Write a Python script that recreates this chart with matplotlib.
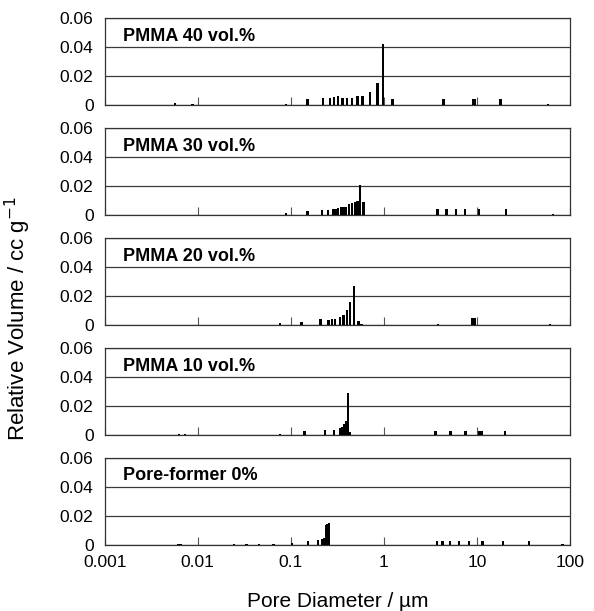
import matplotlib
matplotlib.use("Agg")
from matplotlib import pyplot as plt
from matplotlib.ticker import NullLocator

plt.rcParams["font.family"] = ["Liberation Sans", "DejaVu Sans"]

# pore diameter (um) and relative volume (cc/g)
d40 = [0.0057, 0.0088, 0.0527, 0.089, 0.151, 0.223, 0.265, 0.290, 0.323, 0.360, 0.400, 0.453,
       0.522, 0.591, 0.713, 0.855, 0.98, 1.24, 4.35, 9.1, 9.6, 17.9, 58]
v40 = [0.0016, 0.0010, 0.0006, 0.0012, 0.0047, 0.0052, 0.0052, 0.0059, 0.0066, 0.0054, 0.0054, 0.0054,
       0.0066, 0.0066, 0.0094, 0.0153, 0.042, 0.0047, 0.0047, 0.0047, 0.0047, 0.0047, 0.0010]

d30 = [0.0273, 0.0310, 0.0349, 0.0395, 0.0506, 0.089, 0.151, 0.216, 0.250, 0.283, 0.303, 0.323,
       0.345, 0.369, 0.394, 0.420, 0.457, 0.489, 0.522, 0.557, 0.605, 3.78, 4.71, 5.94, 7.42, 10.6,
       20.5, 65.9]
v30 = [0.0005, 0.0003, 0.0003, 0.0003, 0.0006, 0.0014, 0.0030, 0.0035, 0.0035, 0.0042, 0.0044, 0.0053,
       0.0058, 0.0058, 0.0058, 0.0077, 0.0088, 0.0093, 0.0100, 0.0205, 0.0093, 0.0044, 0.0044, 0.0044,
       0.0044, 0.0044, 0.0044, 0.0008]

d20 = [0.0090, 0.0105, 0.0122, 0.0142, 0.0165, 0.0192, 0.0224, 0.0260, 0.0295, 0.033, 0.038, 0.047,
       0.053, 0.076, 0.1305, 0.209, 0.255, 0.277, 0.300, 0.337, 0.369, 0.404, 0.431, 0.476, 0.535,
       0.575, 3.84, 9.0, 9.5, 60.7]
v20 = [0.0004, 0.0004, 0.0004, 0.0004, 0.0004, 0.0004, 0.0004, 0.0004, 0.0004, 0.0004, 0.0004, 0.0004,
       0.0004, 0.0016, 0.0023, 0.0047, 0.0035, 0.0042, 0.0047, 0.0056, 0.0074, 0.0105, 0.0163, 0.0270,
       0.0028, 0.0008, 0.0012, 0.0048, 0.0048, 0.0008]

d10 = [0.0036, 0.0041, 0.0046, 0.0063, 0.0073, 0.0105, 0.0125, 0.015, 0.018, 0.021, 0.025, 0.027,
       0.031, 0.035, 0.041, 0.050, 0.077, 0.140, 0.232, 0.293, 0.337, 0.357, 0.376, 0.395, 0.410,
       0.428, 3.59, 5.2, 7.55, 10.6, 11.2, 20.1, 67]
v10 = [0.0005, 0.0005, 0.0005, 0.0012, 0.0010, 0.0003, 0.0003, 0.0003, 0.0003, 0.0003, 0.0003, 0.0005,
       0.0005, 0.0005, 0.0005, 0.0005, 0.0007, 0.0030, 0.0035, 0.0035, 0.0052, 0.0057, 0.0076, 0.0095,
       0.0287, 0.0020, 0.0029, 0.0029, 0.0029, 0.0029, 0.0029, 0.0029, 0.0005]

d0 = [0.0040, 0.0045, 0.0050, 0.0055, 0.0062, 0.0066, 0.0072, 0.0080, 0.0088, 0.011, 0.0125, 0.014,
      0.016, 0.018, 0.020, 0.0245, 0.0335, 0.0454, 0.0649, 0.103, 0.154, 0.197, 0.220, 0.229, 0.238,
      0.247, 0.256, 3.74, 4.28, 5.12, 6.45, 8.19, 11.5, 19.1, 36.4, 83]
v0 = [0.0003, 0.0003, 0.0003, 0.0003, 0.0010, 0.0010, 0.0005, 0.0005, 0.0005, 0.0003, 0.0003, 0.0003,
      0.0003, 0.0003, 0.0003, 0.0012, 0.0008, 0.0008, 0.0008, 0.0014, 0.0028, 0.0035, 0.0040, 0.0047,
      0.0140, 0.0146, 0.0155, 0.0028, 0.0028, 0.0028, 0.0028, 0.0028, 0.0028, 0.0028, 0.0028, 0.0010]

titles = ["PMMA 40 vol.%", "PMMA 30 vol.%", "PMMA 20 vol.%", "PMMA 10 vol.%", "Pore-former 0%"]
diameters = [d40, d30, d20, d10, d0]
volumes = [v40, v30, v20, v10, v0]

xticks = [0.001, 0.01, 0.1, 1, 10, 100]
xticklabels = ["0.001", "0.01", "0.1", "1", "10", "100"]
yticks = [0, 0.02, 0.04, 0.06]
yticklabels = ["0", "0.02", "0.04", "0.06"]

fig, axes = plt.subplots(5, 1, figsize=(5.94, 6.11), dpi=100)
fig.subplots_adjust(left=0.1763, right=0.9596, top=0.971, bottom=0.1075, hspace=0.253)

for ax, title, d, v in zip(axes, titles, diameters, volumes):
    ax.bar(d, v, width=[x * 0.06 for x in d], color="black", linewidth=0, zorder=3)
    ax.set_xscale("log")
    ax.set_xlim(0.001, 100)
    ax.set_ylim(0, 0.06)
    ax.set_xticks(xticks)
    ax.set_xticklabels(xticklabels)
    ax.xaxis.set_minor_locator(NullLocator())
    ax.set_yticks(yticks)
    ax.set_yticklabels(yticklabels)
    ax.yaxis.grid(True, color="#3a3a3a", linewidth=0.9)
    ax.tick_params(axis="x", direction="in", length=6, width=0.8, color="#555555", pad=7, labelsize=12.5)
    ax.tick_params(axis="y", length=0, pad=8, labelsize=12.5)
    for s in ax.spines.values():
        s.set_color("#333333")
        s.set_linewidth(0.9)
    ax.text(0.039, 0.79, title, transform=ax.transAxes, fontsize=13, fontweight="bold", va="center")

for ax in axes[:-1]:
    ax.tick_params(axis="x", labelbottom=False)

fig.text(0.030, 0.478, "Relative Volume / cc g$^{-1}$", rotation=90, ha="center", va="center", fontsize=16)
fig.text(0.568, 0.016, "Pore Diameter / \u00b5m", ha="center", va="center", fontsize=15)

plt.savefig("out.png", dpi=100)
